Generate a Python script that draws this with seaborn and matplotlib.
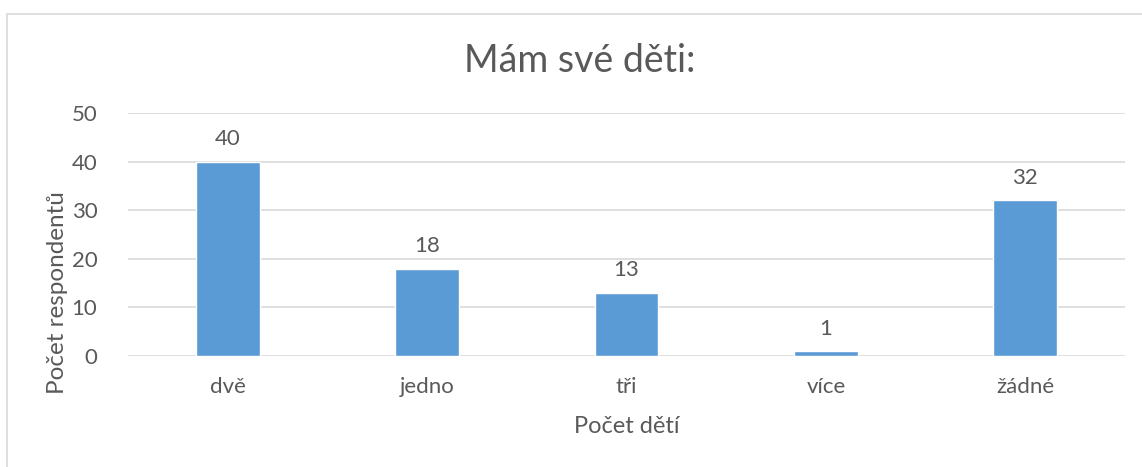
import matplotlib
matplotlib.use("Agg")
import matplotlib.pyplot as plt
import seaborn as sns
import pandas as pd
from matplotlib.patches import Rectangle

# chart data
categories = ['dvě', 'jedno', 'tři', 'více', 'žádné']
counts = [40, 18, 13, 1, 32]

df = pd.DataFrame({'Počet dětí': categories, 'Počet respondentů': counts})

sns.set_style('white')
plt.rcParams['font.family'] = ['Lato', 'DejaVu Sans']
text_color = '#595959'

fig = plt.figure(figsize=(11.42, 4.67), dpi=100)
ax = fig.add_axes([128 / 1142, 1 - 356 / 467, (1125 - 128) / 1142, (356 - 113) / 467])

sns.barplot(data=df, x='Počet dětí', y='Počet respondentů', color='#5B9BD5',
            width=0.32, saturation=1, ax=ax, zorder=3)

ax.set_ylim(0, 50)
ax.set_yticks(range(0, 51, 10))
ax.yaxis.grid(True, color='#D9D9D9', linewidth=1.2, zorder=0)
ax.set_axisbelow(True)
for s in ax.spines.values():
    s.set_visible(False)
ax.tick_params(axis='both', length=0, labelsize=16, colors=text_color)
ax.tick_params(axis='y', pad=22)
ax.tick_params(axis='x', pad=15)

for p, v in zip(ax.patches, counts):
    ax.text(p.get_x() + p.get_width() / 2, v + 2.6, str(v), ha='center', va='bottom',
            fontsize=16, color=text_color)

ax.set_xlabel('Počet dětí', fontsize=17, color=text_color, labelpad=14)
ax.set_ylabel('Počet respondentů', fontsize=17.5, color=text_color)
ax.yaxis.set_label_coords(-0.071, 0.263)
ax.yaxis.label.set_va('center')

fig.text(0.508, 1 - 61 / 467, 'Mám své děti:', ha='center', va='center',
         fontsize=27, color=text_color)

# outer chart border (only left and top are visible in the reference)
fig.patches.append(Rectangle((7 / 1142, -0.1), 1.2, 1.1 - 14 / 467,
                             transform=fig.transFigure, fill=False,
                             edgecolor='#D9D9D9', linewidth=1.2))

fig.savefig('out.png', dpi=100, facecolor='white')
